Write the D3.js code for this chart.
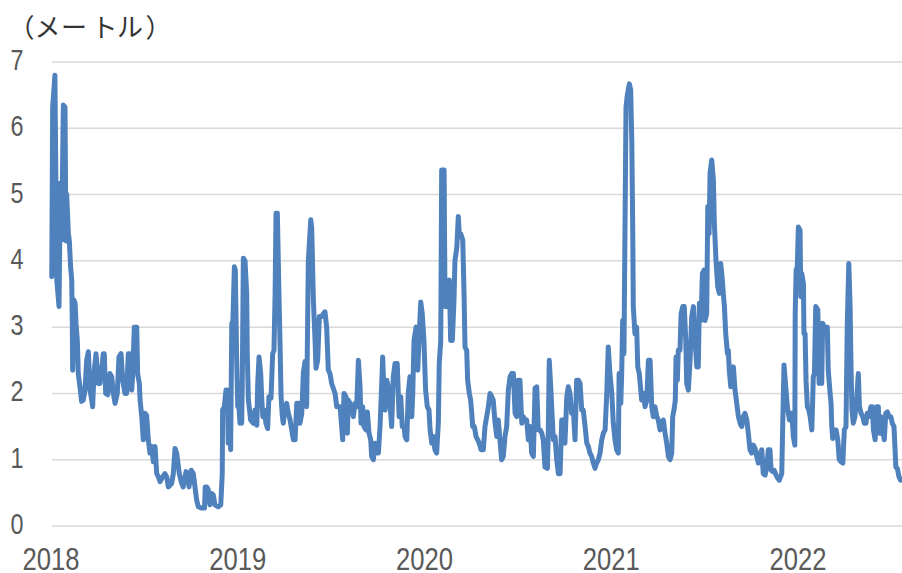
<!DOCTYPE html>
<html lang="ja">
<head>
<meta charset="utf-8">
<script src="https://cdn.jsdelivr.net/npm/d3@7"></script>
<style>
  html, body { margin: 0; padding: 0; background: #fff; }
  svg { display: block; }
</style>
</head>
<body>
<svg id="chart" width="902" height="573"></svg>
<script>
// Axis ticks
const yTicks = [0, 1, 2, 3, 4, 5, 6, 7];
const yearTicks = [2018, 2019, 2020, 2021, 2022];
const unitLabel = "（メートル）";

// Observation time (fractional year) and significant wave height (m)
const obsTime = [
  2018.004, 2018.009, 2018.021, 2018.031, 2018.043, 2018.050, 2018.057, 2018.066, 2018.075, 2018.080,
  2018.084, 2018.093, 2018.098, 2018.105, 2018.111, 2018.114, 2018.116, 2018.123, 2018.129, 2018.134,
  2018.141, 2018.146, 2018.155, 2018.164, 2018.173, 2018.182, 2018.191, 2018.200, 2018.209, 2018.218,
  2018.223, 2018.230, 2018.241, 2018.253, 2018.262, 2018.271, 2018.280, 2018.285, 2018.293, 2018.304,
  2018.316, 2018.325, 2018.334, 2018.343, 2018.355, 2018.364, 2018.375, 2018.384, 2018.396, 2018.405,
  2018.414, 2018.423, 2018.432, 2018.437, 2018.446, 2018.459, 2018.464, 2018.473, 2018.477, 2018.486,
  2018.494, 2018.503, 2018.512, 2018.521, 2018.530, 2018.539, 2018.548, 2018.557, 2018.566, 2018.575,
  2018.584, 2018.598, 2018.610, 2018.620, 2018.628, 2018.646, 2018.655, 2018.664, 2018.673, 2018.687,
  2018.700, 2018.708, 2018.723, 2018.735, 2018.739, 2018.751, 2018.762, 2018.771, 2018.780, 2018.789,
  2018.807, 2018.822, 2018.826, 2018.834, 2018.842, 2018.851, 2018.861, 2018.869, 2018.878, 2018.896,
  2018.909, 2018.917, 2018.919, 2018.928, 2018.937, 2018.944, 2018.949, 2018.955, 2018.962, 2018.968,
  2018.973, 2018.982, 2018.987, 2018.994, 2019.000, 2019.003, 2019.012, 2019.016, 2019.021, 2019.024,
  2019.030, 2019.039, 2019.048, 2019.051, 2019.057, 2019.069, 2019.083, 2019.092, 2019.102, 2019.107,
  2019.114, 2019.123, 2019.128, 2019.134, 2019.141, 2019.151, 2019.160, 2019.167, 2019.178, 2019.187,
  2019.194, 2019.200, 2019.205, 2019.212, 2019.221, 2019.226, 2019.232, 2019.239, 2019.244, 2019.253,
  2019.262, 2019.271, 2019.280, 2019.289, 2019.298, 2019.307, 2019.316, 2019.324, 2019.333, 2019.343,
  2019.351, 2019.360, 2019.369, 2019.378, 2019.391, 2019.396, 2019.405, 2019.414, 2019.419, 2019.428,
  2019.437, 2019.450, 2019.458, 2019.467, 2019.476, 2019.485, 2019.494, 2019.503, 2019.521, 2019.530,
  2019.538, 2019.548, 2019.562, 2019.569, 2019.580, 2019.587, 2019.592, 2019.601, 2019.610, 2019.619,
  2019.628, 2019.637, 2019.646, 2019.655, 2019.660, 2019.669, 2019.676, 2019.687, 2019.694, 2019.703,
  2019.712, 2019.717, 2019.726, 2019.735, 2019.744, 2019.753, 2019.762, 2019.771, 2019.776, 2019.783,
  2019.789, 2019.798, 2019.806, 2019.815, 2019.824, 2019.833, 2019.842, 2019.854, 2019.864, 2019.873,
  2019.881, 2019.890, 2019.896, 2019.905, 2019.913, 2019.922, 2019.932, 2019.937, 2019.944, 2019.955,
  2019.964, 2019.972, 2019.980, 2019.988, 2019.997, 2020.006, 2020.015, 2020.024, 2020.030, 2020.039,
  2020.047, 2020.056, 2020.065, 2020.074, 2020.079, 2020.087, 2020.092, 2020.105, 2020.110, 2020.119,
  2020.128, 2020.133, 2020.140, 2020.149, 2020.158, 2020.163, 2020.173, 2020.181, 2020.186, 2020.194,
  2020.205, 2020.212, 2020.217, 2020.226, 2020.231, 2020.240, 2020.247, 2020.253, 2020.258, 2020.267,
  2020.276, 2020.285, 2020.293, 2020.303, 2020.315, 2020.324, 2020.333, 2020.342, 2020.351, 2020.360,
  2020.368, 2020.378, 2020.387, 2020.395, 2020.404, 2020.413, 2020.422, 2020.431, 2020.440, 2020.449,
  2020.458, 2020.467, 2020.476, 2020.485, 2020.494, 2020.502, 2020.511, 2020.521, 2020.529, 2020.538,
  2020.547, 2020.556, 2020.565, 2020.574, 2020.583, 2020.592, 2020.601, 2020.609, 2020.619, 2020.628,
  2020.636, 2020.645, 2020.658, 2020.663, 2020.668, 2020.676, 2020.681, 2020.690, 2020.699, 2020.708,
  2020.717, 2020.726, 2020.735, 2020.743, 2020.752, 2020.762, 2020.770, 2020.779, 2020.788, 2020.797,
  2020.806, 2020.815, 2020.824, 2020.833, 2020.842, 2020.850, 2020.860, 2020.869, 2020.877, 2020.886,
  2020.895, 2020.904, 2020.913, 2020.922, 2020.931, 2020.940, 2020.949, 2020.958, 2020.967, 2020.976,
  2020.984, 2020.993, 2021.003, 2021.011, 2021.020, 2021.029, 2021.038, 2021.042, 2021.051, 2021.056,
  2021.061, 2021.068, 2021.074, 2021.079, 2021.086, 2021.097, 2021.104, 2021.110, 2021.115, 2021.118,
  2021.127, 2021.136, 2021.142, 2021.150, 2021.163, 2021.172, 2021.181, 2021.190, 2021.199, 2021.208,
  2021.217, 2021.225, 2021.234, 2021.244, 2021.252, 2021.261, 2021.270, 2021.279, 2021.288, 2021.297,
  2021.306, 2021.315, 2021.324, 2021.329, 2021.336, 2021.343, 2021.347, 2021.354, 2021.359, 2021.368,
  2021.374, 2021.383, 2021.391, 2021.399, 2021.404, 2021.413, 2021.422, 2021.431, 2021.440, 2021.449,
  2021.458, 2021.466, 2021.472, 2021.481, 2021.488, 2021.497, 2021.502, 2021.511, 2021.517, 2021.524,
  2021.529, 2021.538, 2021.547, 2021.552, 2021.561, 2021.570, 2021.579, 2021.586, 2021.595, 2021.600,
  2021.606, 2021.613, 2021.622, 2021.627, 2021.632, 2021.640, 2021.645, 2021.654, 2021.663, 2021.672,
  2021.681, 2021.690, 2021.699, 2021.707, 2021.716, 2021.726, 2021.734, 2021.743, 2021.752, 2021.761,
  2021.770, 2021.779, 2021.788, 2021.797, 2021.806, 2021.814, 2021.824, 2021.833, 2021.841, 2021.850,
  2021.856, 2021.865, 2021.873, 2021.882, 2021.892, 2021.900, 2021.913, 2021.918, 2021.925, 2021.936,
  2021.943, 2021.954, 2021.967, 2021.975, 2021.983, 2021.985, 2021.990, 2021.996, 2022.002, 2022.011,
  2022.015, 2022.020, 2022.029, 2022.032, 2022.038, 2022.043, 2022.050, 2022.058, 2022.065, 2022.074,
  2022.082, 2022.088, 2022.095, 2022.106, 2022.113, 2022.122, 2022.127, 2022.132, 2022.141, 2022.149,
  2022.157, 2022.162, 2022.172, 2022.177, 2022.181, 2022.186, 2022.195, 2022.204, 2022.213, 2022.221,
  2022.230, 2022.240, 2022.248, 2022.257, 2022.264, 2022.272, 2022.279, 2022.284, 2022.289, 2022.296,
  2022.305, 2022.315, 2022.323, 2022.329, 2022.338, 2022.347, 2022.355, 2022.364, 2022.371, 2022.380,
  2022.390, 2022.398, 2022.404, 2022.413, 2022.422, 2022.430, 2022.436, 2022.445, 2022.454, 2022.462,
  2022.470, 2022.479, 2022.488, 2022.497, 2022.505, 2022.514, 2022.524, 2022.532, 2022.541, 2022.550
];

const waveHeight = [
  3.76, 6.32, 6.80, 3.71, 3.31, 5.17, 4.31, 6.35, 6.32, 4.30,
  5.00, 4.41, 4.31, 3.91, 3.71, 3.06, 2.35, 3.41, 3.36, 3.06,
  2.80, 2.30, 2.10, 1.88, 1.90, 2.05, 2.50, 2.63, 2.05, 1.90,
  1.80, 2.30, 2.60, 2.15, 2.15, 2.35, 2.60, 2.60, 2.00, 1.98,
  2.30, 2.25, 2.00, 1.85, 2.00, 2.55, 2.60, 2.20, 2.00, 2.00,
  2.60, 2.60, 2.05, 2.25, 3.00, 3.00, 2.30, 2.15, 1.90, 1.65,
  1.30, 1.70, 1.67, 1.30, 1.10, 1.20, 0.97, 1.20, 0.79, 0.74,
  0.67, 0.74, 0.79, 0.74, 0.59, 0.64, 0.79, 1.17, 1.10, 0.79,
  0.64, 0.59, 0.82, 0.79, 0.59, 0.84, 0.79, 0.59, 0.39, 0.29,
  0.27, 0.27, 0.59, 0.59, 0.55, 0.32, 0.49, 0.47, 0.32, 0.29,
  0.32, 0.79, 1.75, 1.80, 2.05, 2.05, 1.25, 2.00, 1.15, 3.06,
  3.00, 3.91, 3.86, 2.55, 1.80, 1.95, 1.55, 2.15, 1.55, 2.10,
  4.04, 4.00, 3.50, 2.60, 1.90, 1.60, 1.55, 1.75, 1.52, 2.15,
  2.55, 2.30, 1.95, 1.65, 1.75, 1.55, 1.47, 1.95, 1.93, 2.60,
  2.65, 3.50, 4.72, 4.72, 3.46, 2.80, 1.95, 1.65, 1.55, 1.80,
  1.85, 1.70, 1.60, 1.45, 1.30, 1.30, 1.85, 1.85, 1.55, 1.70,
  2.30, 2.48, 1.80, 4.00, 4.62, 4.50, 3.41, 2.80, 2.38, 2.50,
  3.16, 3.16, 3.20, 3.23, 3.00, 2.35, 2.30, 2.15, 2.00, 1.80,
  1.80, 1.80, 1.30, 2.00, 1.95, 1.40, 1.90, 1.85, 1.80, 1.65,
  1.85, 1.80, 2.50, 2.10, 1.55, 1.80, 1.50, 1.45, 1.72, 1.40,
  1.30, 1.05, 1.00, 1.25, 1.10, 1.10, 1.50, 2.15, 2.55, 2.00,
  1.75, 2.20, 2.10, 1.85, 1.50, 2.25, 2.45, 2.45, 1.65, 1.95,
  1.50, 1.50, 1.35, 1.30, 2.00, 2.25, 1.65, 2.00, 2.80, 3.00,
  2.35, 2.90, 3.38, 3.20, 2.80, 2.05, 1.80, 1.75, 1.45, 1.25,
  1.35, 1.15, 1.10, 1.55, 2.45, 2.80, 5.37, 5.37, 3.31, 3.71,
  3.31, 3.71, 2.80, 2.80, 3.41, 4.00, 4.20, 4.67, 4.41, 4.41,
  4.31, 3.46, 2.70, 2.65, 2.20, 2.00, 1.90, 1.70, 1.50, 1.50,
  1.35, 1.30, 1.25, 1.15, 1.15, 1.50, 1.65, 1.80, 2.00, 1.95,
  1.90, 1.55, 1.35, 1.60, 1.30, 1.00, 1.05, 1.35, 1.50, 2.05,
  2.25, 2.30, 2.30, 1.70, 1.65, 2.20, 2.20, 1.55, 1.65, 1.60,
  1.60, 1.30, 1.50, 1.10, 1.05, 2.08, 2.10, 1.45, 1.45, 1.40,
  1.30, 0.89, 0.87, 1.45, 2.50, 2.10, 1.80, 1.30, 1.35, 1.00,
  0.79, 0.79, 1.60, 1.60, 1.25, 1.95, 2.10, 2.00, 1.70, 1.75,
  1.30, 2.20, 2.20, 2.15, 1.75, 1.75, 1.50, 1.25, 1.20, 1.10,
  1.05, 0.95, 0.87, 0.95, 1.00, 1.10, 1.30, 1.40, 1.45, 2.00,
  2.70, 2.30, 2.00, 1.55, 1.30, 1.15, 1.10, 2.30, 1.85, 2.30,
  3.10, 2.60, 4.62, 6.32, 6.50, 6.67, 6.58, 5.82, 4.50, 3.31,
  2.90, 3.00, 2.40, 2.30, 1.90, 2.00, 1.80, 1.90, 2.50, 2.50,
  1.80, 1.65, 1.80, 1.65, 1.60, 1.45, 1.50, 1.60, 1.40, 1.25,
  1.05, 1.00, 1.10, 1.65, 1.75, 1.90, 2.55, 2.20, 2.65, 2.65,
  3.20, 3.31, 3.31, 2.80, 2.15, 2.05, 2.50, 3.16, 3.31, 2.80,
  2.40, 2.40, 3.36, 3.10, 3.81, 3.86, 3.10, 3.20, 4.82, 4.41,
  5.32, 5.52, 5.22, 4.57, 4.00, 3.61, 3.51, 3.96, 3.71, 3.51,
  3.31, 2.90, 2.60, 2.65, 2.35, 2.10, 2.35, 2.40, 2.05, 1.85,
  1.65, 1.55, 1.50, 1.65, 1.70, 1.60, 1.40, 1.15, 1.10, 1.22,
  1.17, 1.05, 0.95, 1.10, 1.15, 0.79, 0.77, 0.90, 1.15, 1.15,
  0.84, 0.82, 0.84, 0.77, 0.72, 0.69, 0.79, 1.50, 2.43, 2.05,
  1.80, 1.60, 1.70, 1.35, 1.22, 3.20, 3.86, 3.91, 4.51, 4.46,
  3.46, 3.81, 3.66, 2.90, 2.90, 2.20, 1.80, 1.75, 1.65, 1.45,
  2.25, 2.30, 3.31, 3.26, 2.15, 2.90, 2.15, 3.06, 3.00, 3.00,
  3.00, 2.35, 2.00, 1.85, 1.50, 1.32, 1.45, 1.45, 1.30, 1.00,
  0.97, 0.95, 1.45, 1.50, 3.06, 3.96, 3.31, 2.40, 1.75, 1.55,
  1.65, 1.95, 2.30, 1.80, 1.70, 1.65, 1.55, 1.55, 1.70, 1.65,
  1.80, 1.80, 1.45, 1.30, 1.80, 1.80, 1.40, 1.65, 1.45, 1.30,
  1.70, 1.72, 1.65, 1.65, 1.55, 1.50, 0.89, 0.87, 0.74, 0.69
];

const width = 902, height = 573;
const plot = { left: 51, right: 902, top: 62, bottom: 526 };

const svg = d3.select("#chart");

// Time axis runs from the start of 2018 to late July 2022
const x = d3.scaleLinear()
  .domain([2018, 2018 + (plot.right - plot.left) / 186.75])
  .range([plot.left, plot.right]);

const y = d3.scaleLinear()
  .domain([0, 7])
  .range([plot.bottom, plot.top]);

// Horizontal gridlines
svg.append("g")
  .selectAll("line")
  .data(yTicks)
  .join("line")
  .attr("x1", plot.left + 1)
  .attr("x2", width)
  .attr("y1", d => y(d))
  .attr("y2", d => y(d))
  .attr("stroke", "#d9d9d9")
  .attr("stroke-width", 1.5);

const tickFont = "'Liberation Sans Narrow', 'Liberation Sans', Arial, sans-serif";

// Y tick labels
svg.append("g")
  .selectAll("text")
  .data(yTicks)
  .join("text")
  .attr("x", 23.5)
  .attr("y", d => y(d) + 8)
  .attr("text-anchor", "end")
  .attr("font-family", tickFont)
  .attr("font-size", 30)
  .attr("fill", "#595959")
  .attr("textLength", 13)
  .attr("lengthAdjust", "spacingAndGlyphs")
  .text(d => d);

// Year labels
svg.append("g")
  .selectAll("text")
  .data(yearTicks)
  .join("text")
  .attr("x", d => x(d))
  .attr("y", 570)
  .attr("text-anchor", "middle")
  .attr("font-family", tickFont)
  .attr("font-size", 31)
  .attr("fill", "#595959")
  .attr("textLength", 57)
  .attr("lengthAdjust", "spacingAndGlyphs")
  .text(d => d);

// Unit label, one glyph per slot (full-width brackets sit off-centre in their cells)
const unitX = [21.5, 47.5, 74, 104.5, 130, 158.5];
svg.append("text")
  .attr("y", 37)
  .attr("font-family", "'Noto Sans CJK JP', 'Noto Sans', sans-serif")
  .attr("font-size", 26)
  .attr("fill", "#333333")
  .attr("text-anchor", "middle")
  .selectAll("tspan")
  .data(Array.from(unitLabel))
  .join("tspan")
  .attr("x", (d, i) => unitX[i])
  .text(d => d);

// Wave height series
const line = d3.line()
  .x(i => x(obsTime[i]))
  .y(i => y(waveHeight[i]));

svg.append("path")
  .attr("d", line(d3.range(obsTime.length)))
  .attr("fill", "none")
  .attr("stroke", "#4f81bd")
  .attr("stroke-width", 5)
  .attr("stroke-linejoin", "round")
  .attr("stroke-linecap", "round");
</script>
</body>
</html>
